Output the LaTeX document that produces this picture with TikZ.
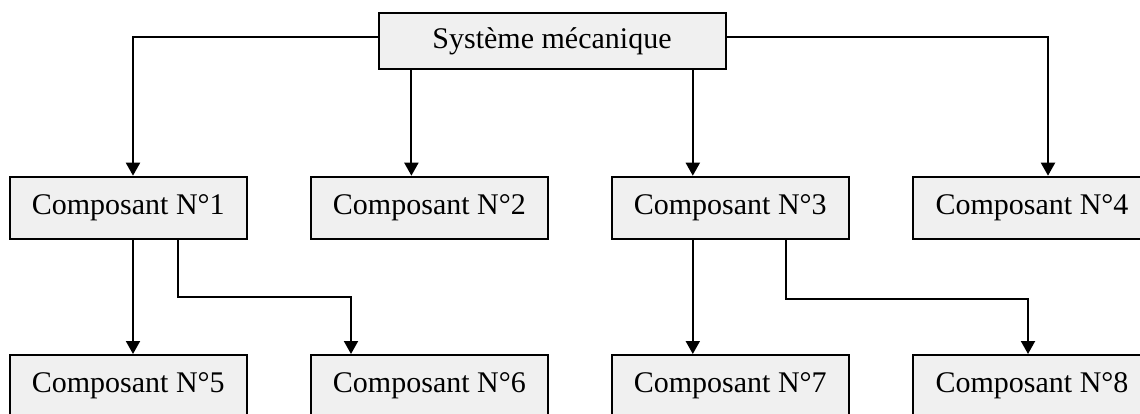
\documentclass[tikz,border=0pt]{standalone}
\usepackage{fontspec}
\setmainfont{Liberation Serif}
\usetikzlibrary{arrows.meta}
\definecolor{boxfill}{HTML}{F0F0F0}
\tikzset{
  compbox/.style={draw=black, fill=boxfill, line width=2pt, inner sep=0pt,
    minimum width=237.5pt, minimum height=62pt,
    font=\fontsize{30}{36}\selectfont},
  topbox/.style={compbox, minimum width=347pt, minimum height=56.5pt},
  arr/.style={line width=2pt, -{Triangle[width=14pt,length=13pt]}}
}
\begin{document}
\begin{tikzpicture}[x=1pt,y=-1pt]
\path[use as bounding box, clip] (0,0) rectangle (1140,414);
\fill[white] (0,0) rectangle (1140,414);
\node[topbox] (top) at (552,41) {Système mécanique};
\node[compbox] (c1) at (128.3,207.7) {Composant N°1};
\node[compbox] (c2) at (429.4,207.7) {Composant N°2};
\node[compbox] (c3) at (730.3,207.7) {Composant N°3};
\node[compbox] (c4) at (1032,207.7) {Composant N°4};
\node[compbox] (c5) at (128.3,386) {Composant N°5};
\node[compbox] (c6) at (429.4,386) {Composant N°6};
\node[compbox] (c7) at (730.3,386) {Composant N°7};
\node[compbox] (c8) at (1032,386) {Composant N°8};
% top level
\draw[arr] ([yshift=4pt]top.west) -| ([xshift=4.7pt]c1.north);
\draw[arr] ([xshift=-18pt]c2.north |- top.south) -- ([xshift=-18pt]c2.north);
\draw[arr] ([xshift=-37.5pt]c3.north |- top.south) -- ([xshift=-37.5pt]c3.north);
\draw[arr] ([yshift=4pt]top.east) -| ([xshift=16pt]c4.north);
% second level
\draw[arr] ([xshift=4.7pt]c1.south) -- ([xshift=4.7pt]c5.north);
\draw[arr] ([xshift=49.7pt]c1.south) -- ++(0,57) -| ([xshift=-78.4pt]c6.north);
\draw[arr] ([xshift=-37.5pt]c3.south) -- ([xshift=-37.5pt]c7.north);
\draw[arr] ([xshift=55.7pt]c3.south) -- ++(0,59.5) -| ([xshift=-4pt]c8.north);
\end{tikzpicture}
\end{document}
